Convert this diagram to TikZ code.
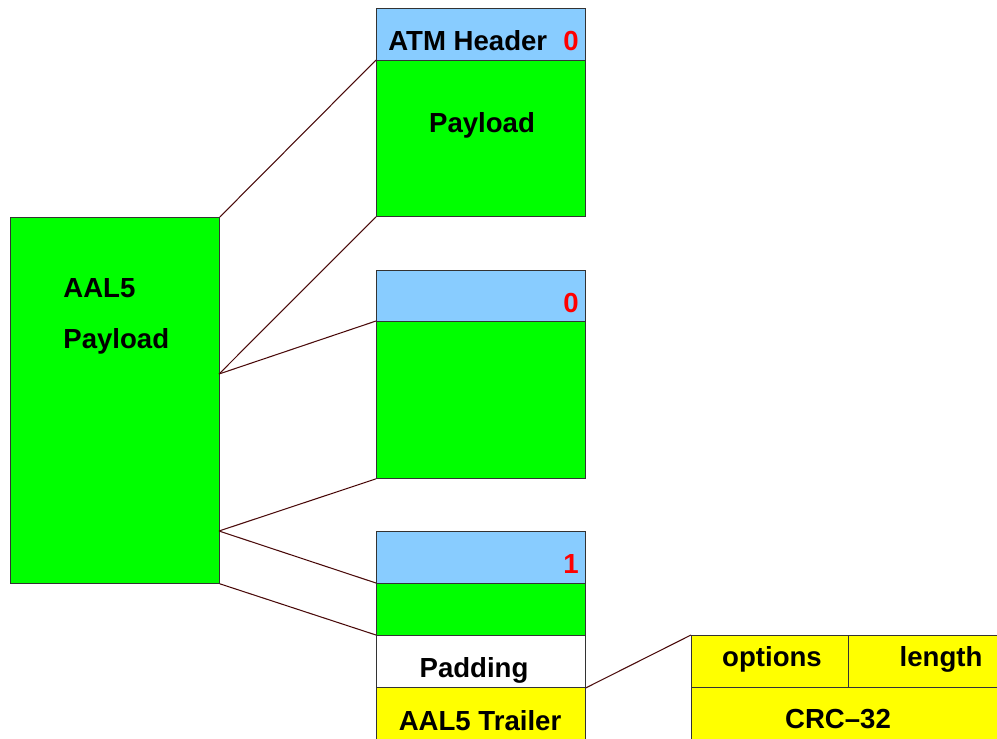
\documentclass[tikz,border=0pt]{standalone}
\usepackage{fontspec}
\setmainfont{Liberation Sans}
\usepackage{tikz}
\usetikzlibrary{positioning}

\definecolor{hdrblue}{HTML}{88CCFF}
\definecolor{cellgreen}{HTML}{00FF00}
\definecolor{trlyellow}{HTML}{FFFF00}
\definecolor{linkbrown}{HTML}{4A0A0A}

\begin{document}
\begin{tikzpicture}[x=0.02cm, y=-0.02cm,
    every node/.style={font=\fontsize{15.7}{18}\selectfont\bfseries},
    cell/.style={rectangle, draw=black!80, line width=0.5pt, anchor=north west, inner sep=0pt, minimum width=4.18cm},
    hdr/.style={cell, fill=hdrblue, minimum height=1.04cm},
    pay/.style={cell, fill=cellgreen},
    flag/.style={anchor=base east, text=red, inner sep=0pt},
    txt/.style={anchor=base, inner sep=0pt},
    link/.style={draw=linkbrown, line width=0.6pt}]

    \useasboundingbox (0,0) rectangle (997,738);

    % AAL5 payload
    \node[pay, minimum height=7.32cm] (aal) at (10,217) {};
    \node[txt, anchor=base west] (aaltop) at (63,297) {AAL5};
    \node[txt, anchor=base west] (aalbot) at (63,348) {Payload};

    % first cell
    \node[hdr] (h1) at (376,8) {};
    \node[pay, minimum height=3.12cm] (p1) at (376,60) {};
    \node[txt, anchor=base west] (h1txt) at (388,50) {ATM Header};
    \node[flag] (f1) at (579,50) {0};
    \node[txt] (p1txt) at (482,132) {Payload};

    % second cell
    \node[hdr] (h2) at (376,270) {};
    \node[pay, minimum height=3.14cm] (p2) at (376,321) {};
    \node[flag] (f2) at (579,312) {0};

    % last cell
    \node[hdr] (h3) at (376,531) {};
    \node[pay, minimum height=1.04cm] (p3) at (376,583) {};
    \node[cell, fill=white, minimum height=1.04cm] (pad) at (376,635) {};
    \node[cell, fill=trlyellow, minimum height=1.04cm] (trl) at (376,687) {};
    \node[flag] (f3) at (579,573) {1};
    \node[txt] (padtxt) at (474,677) {Padding};
    \node[txt] (trltxt) at (480,730) {AAL5 Trailer};

    % trailer fields
    \node[cell, fill=trlyellow, minimum width=3.14cm, minimum height=1.04cm] (opt) at (691,635) {};
    \node[cell, fill=trlyellow, minimum width=3.04cm, minimum height=1.04cm] (len) at (848,635) {};
    \node[cell, fill=trlyellow, minimum width=6.18cm, minimum height=1.04cm] (crc) at (691,687) {};
    \node[txt] (opttxt) at (772,666) {options};
    \node[txt] (lentxt) at (941,666) {length};
    \node[txt] (crctxt) at (838,728) {CRC--32};

    \coordinate (splita) at (219,374);
    \coordinate (splitb) at (219,531);

    \draw[link] (aal.north east) -- (p1.north west);
    \draw[link] (splita) -- (p1.south west);
    \draw[link] (splita) -- (p2.north west);
    \draw[link] (splitb) -- (p2.south west);
    \draw[link] (splitb) -- (p3.north west);
    \draw[link] (aal.south east) -- (pad.north west);
    \draw[link] (pad.south east) -- (opt.north west);

\end{tikzpicture}
\end{document}
